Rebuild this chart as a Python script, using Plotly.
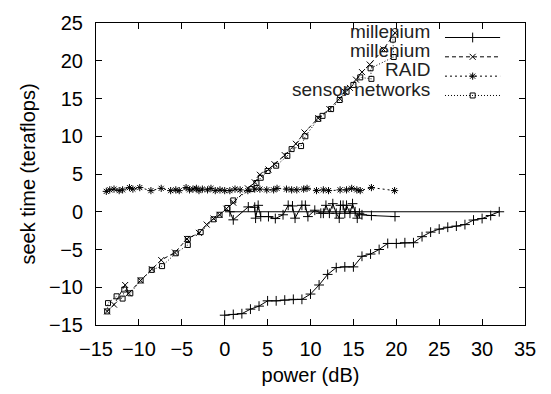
import plotly.graph_objects as go

# ---- data ----
mill1_curve_x = list(range(0, 33))
mill1_curve_y = [-13.7, -13.6, -13.5, -12.9, -12.5, -11.8, -11.8, -11.7, -11.6, -11.6, -10.9,
                 -9.7, -8.3, -7.4, -7.3, -7.3, -5.9, -5.6, -5.0, -4.2, -4.2, -4.1, -4.1,
                 -3.3, -2.7, -2.3, -2.05, -1.9, -1.7, -1.1, -0.9, -0.5, 0.0]
mill1_wiggle_x = [0.6, 1.0, 2.75, 3.5, 3.6, 3.9, 4.2, 5.1, 5.9, 6.8, 7.4, 7.9, 8.2, 9.0, 9.4, 9.7,
                  10.5, 11.2, 11.5, 11.8, 12.2, 12.6, 13.0, 13.35, 13.5, 13.8, 14.0, 14.2, 14.6,
                  14.9, 15.2, 15.45, 15.7, 16.0, 17.1, 19.85]
mill1_wiggle_y = [0.0, -1.07, 0.64, 0.6, -0.85, 0.85, -0.64, -0.64, -0.9, -0.4, 0.85, 0.77, -0.85,
                  0.85, 0.85, -0.64, 0.2, -0.2, -0.2, 0.85, -0.2, 1.07, -0.2, -0.85, 0.85, 0.85,
                  -0.2, 0.85, -0.2, 1.07, 0.0, -0.85, -0.2, -0.4, -0.5, -0.64]

mill2_x = [-13.7, -12.9, -11.6, -11.2, -9.8, -8.5, -7.4, -5.8, -4.4, -3.0, -2.1, -1.3, -0.6, 0.2,
           1.0, 2.7, 3.5, 4.1, 5.1, 5.8, 7.0, 8.3, 9.3, 10.9, 12.2, 13.4, 14.0, 14.6, 15.3, 16.0,
           16.9, 18.5, 19.85]
mill2_y = [-13.2, -12.3, -9.7, -10.8, -9.1, -7.6, -6.4, -5.4, -3.6, -2.8, -1.7, -0.9, -0.4, 0.4,
           1.2, 3.1, 3.9, 4.9, 5.6, 6.3, 7.5, 9.0, 10.5, 12.4, 13.6, 15.0, 15.9, 16.4, 17.5, 18.5,
           19.5, 21.5, 23.7]

raid_x = [-13.8, -13.4, -12.9, -12.3, -11.9, -11.1, -10.7, -9.9, -8.6, -7.4, -6.3, -5.7, -5.3,
          -4.5, -4.1, -3.7, -3.3, -3.0, -2.6, -2.0, -1.6, -1.1, -0.55, 0.0, 0.6, 1.2, 1.8, 2.7,
          3.5, 4.1, 4.9, 5.7, 6.1, 7.2, 7.8, 8.4, 9.2, 9.6, 10.7, 11.5, 12.1, 13.45, 14.2, 14.8,
          15.4, 15.8, 17.1, 19.8]
raid_y = [2.7, 2.9, 3.0, 2.8, 2.9, 3.2, 3.0, 3.2, 2.8, 3.1, 2.8, 2.9, 2.8, 3.2, 2.9, 3.0, 3.1,
          2.8, 3.0, 2.9, 3.1, 2.8, 2.9, 2.8, 2.8, 3.0, 2.9, 2.8, 3.0, 3.0, 2.9, 2.9, 3.1, 3.0,
          2.9, 2.9, 3.0, 3.1, 2.8, 2.9, 2.8, 2.9, 2.9, 3.1, 2.9, 2.8, 3.2, 2.8]

sensor_x = [-13.7, -13.6, -12.6, -11.9, -11.7, -11.0, -9.8, -8.5, -7.3, -5.7, -4.3, -4.3, -2.8,
            -1.3, -0.6, 0.3, 1.0, 3.1, 3.7, 4.2, 5.0, 6.0, 7.3, 7.8, 8.9, 9.4, 10.9, 11.4, 12.4,
            13.4, 14.2, 15.0, 15.8, 17.1, 17.0, 19.7, 19.6]
sensor_y = [-13.2, -12.1, -11.2, -11.5, -10.3, -10.8, -9.1, -7.7, -7.2, -5.5, -4.4, -3.6, -2.7,
            -1.0, -0.4, 0.5, 1.5, 3.0, 3.8, 4.5, 5.4, 6.1, 7.4, 8.3, 8.7, 10.0, 12.3, 12.7, 13.6,
            14.8, 15.9, 16.8, 17.8, 17.6, 19.0, 20.5, 22.8]

series_names = ["millenium", "millenium", "RAID", "sensor networks"]
x_ticks = [-15, -10, -5, 0, 5, 10, 15, 20, 25, 30, 35]
y_ticks = [-15, -10, -5, 0, 5, 10, 15, 20, 25]

# ---- styles ----
FONT = "Liberation Sans, Arial, sans-serif"
FS = 20
KEY_FS = 19
styles = [
    dict(dash="solid", symbol="cross-thin-open", size=7),
    dict(dash="4px,3px", symbol="x-thin-open", size=6),
    dict(dash="2px,3px", symbol="asterisk-open", size=6),
    dict(dash="1px,2px", symbol="square-open", size=5),
]

data = [
    (mill1_curve_x + mill1_wiggle_x, mill1_curve_y + mill1_wiggle_y),
    (mill2_x, mill2_y),
    (raid_x, raid_y),
    (sensor_x, sensor_y),
]

fig = go.Figure()
for (xs, ys), st, nm in zip(data, styles, series_names):
    fig.add_trace(go.Scatter(
        x=xs, y=ys, mode="lines+markers", name=nm, showlegend=False,
        line=dict(color="black", width=1, dash=st["dash"]),
        marker=dict(symbol=st["symbol"], size=st["size"], color="black",
                    line=dict(color="black", width=1)),
    ))

# ---- gnuplot-style key (text right, sample left) ----
key_rows = [0.952, 0.888, 0.824, 0.760]
text_rows = [0.973, 0.909, 0.845, 0.781]
for st, nm, yk, yt in zip(styles, series_names, key_rows, text_rows):
    fig.add_trace(go.Scatter(
        x=[0.8135, 0.878, 0.942], y=[yk, yk, yk], xaxis="x2", yaxis="y2",
        mode="lines", showlegend=False, hoverinfo="skip",
        line=dict(color="black", width=1, dash=st["dash"]),
    ))
    fig.add_trace(go.Scatter(
        x=[0.878], y=[yk], xaxis="x2", yaxis="y2", mode="markers",
        showlegend=False, hoverinfo="skip",
        marker=dict(symbol=st["symbol"], size=st["size"], color="black",
                    line=dict(color="black", width=1)),
    ))
    fig.add_annotation(x=0.783, y=yt, xref="paper", yref="paper", text=nm,
                       showarrow=False, xanchor="right", yanchor="middle",
                       font=dict(family=FONT, size=KEY_FS, color="#222"))

axis_common = dict(
    showline=True, linecolor="black", linewidth=1, mirror="ticks",
    ticks="inside", ticklen=6, tickcolor="black", tickwidth=1,
    showgrid=False, zeroline=False,
    tickfont=dict(family=FONT, size=FS, color="black"),
)

fig.update_layout(
    width=551, height=394,
    margin=dict(l=96, r=26, t=15, b=67),
    paper_bgcolor="white", plot_bgcolor="white",
    showlegend=False,
    xaxis=dict(range=[-15, 35], tickvals=x_ticks, ticklabelstandoff=6,
               title=dict(text="power (dB)", font=dict(family=FONT, size=FS, color="black"),
                          standoff=8),
               **axis_common),
    yaxis=dict(range=[-15, 25], tickvals=y_ticks, ticklabelstandoff=8,
               title=dict(text="seek time (teraflops)",
                          font=dict(family=FONT, size=FS, color="black"), standoff=8),
               **axis_common),
    xaxis2=dict(range=[0, 1], overlaying="x", visible=False, fixedrange=True),
    yaxis2=dict(range=[0, 1], overlaying="y", visible=False, fixedrange=True),
)

fig.write_html("out.html")
